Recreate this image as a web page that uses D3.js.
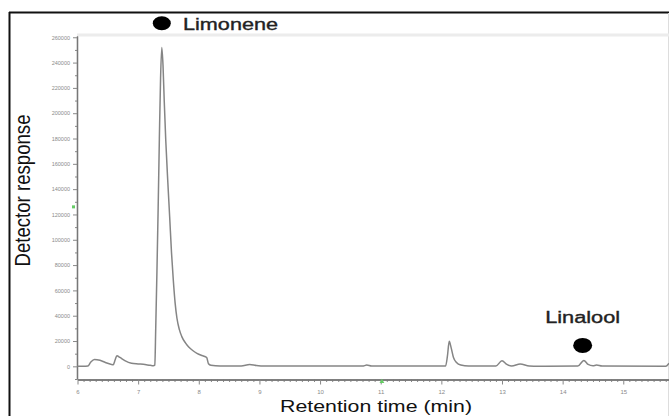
<!DOCTYPE html>
<html>
<head>
<meta charset="utf-8">
<script src="https://cdn.jsdelivr.net/npm/d3@7"></script>
<style>
  html, body { margin: 0; padding: 0; background: #fff; }
  svg { display: block; }
  text { font-family: "Liberation Sans", Arial, sans-serif; }
</style>
</head>
<body>
<div id="chart"></div>
<script>
// ---- data ----
const retentionTimes = [
  6.00, 6.10, 6.17, 6.22, 6.28, 6.37, 6.46, 6.56, 6.59, 6.62, 6.65, 6.70, 6.78, 6.89, 7.00, 7.085, 7.20, 7.25,
  7.275, 7.29, 7.31, 7.33, 7.35, 7.37, 7.39, 7.41, 7.43, 7.455, 7.49, 7.52, 7.55, 7.58, 7.61, 7.64, 7.68, 7.72,
  7.78, 7.83, 7.90, 7.97, 8.04, 8.10, 8.13, 8.16, 8.20, 8.35,
  8.70, 8.84, 8.95, 9.10, 10.70, 10.77, 10.85,
  12.07, 12.10, 12.13, 12.16, 12.20, 12.25, 12.32, 12.45,
  12.90, 13.00, 13.08, 13.16, 13.30, 13.45, 13.60,
  14.25, 14.35, 14.42, 14.50, 14.56, 14.65, 15.70, 15.754
];
const detectorResponse = [
  0, 0, 200, 3500, 5500, 4800, 3000, 1500, 1300, 5000, 8400, 7000, 4500, 2400, 1900, 1600, 800, 500,
  1000, 30000, 75000, 125000, 180000, 228000, 252000, 238000, 210000, 179000, 145000, 118000, 90000, 68000, 50000, 38000, 29000, 23500,
  18500, 15500, 12500, 10300, 8800, 7800, 7000, 2000, 800, 200,
  300, 1500, 600, 200, 200, 1000, 200,
  300, 8000, 19800, 15000, 7000, 3000, 1000, 200,
  300, 4400, 1500, 200, 1800, 300, 100,
  200, 4700, 1500, 400, 1000, 200, 100, 2500
];
const xTickValues = [6, 7, 8, 9, 10, 11, 12, 13, 14, 15];
const yTickValues = [0, 20000, 40000, 60000, 80000, 100000, 120000, 140000, 160000, 180000, 200000, 220000, 240000, 260000];
const peakNames = ["Limonene", "Linalool"];
const peakTimes = [7.39, 14.33];
const peakHeights = [252000, 4700];
const eventTimes = [11.02];      // green event marker on time axis
const eventLevels = [126000];    // green event marker on response axis

// ---- layout ----
const W = 669, H = 416;
const svg = d3.select("#chart").append("svg").attr("width", W).attr("height", H);
svg.append("rect").attr("width", W).attr("height", H).attr("fill", "#fff");

const x = d3.scaleLinear().domain([6, 15.754]).range([77.5, 669]);
const y = d3.scaleLinear().domain([-10000, 261000]).range([379, 36]);
const axisX = 77, axisY = 379.5;

// frame
svg.append("line").attr("x1", 9).attr("x2", W).attr("y1", 12.5).attr("y2", 12.5)
  .attr("stroke", "#111").attr("stroke-width", 2);
svg.append("line").attr("x1", 9.5).attr("x2", 9.5).attr("y1", 12).attr("y2", H)
  .attr("stroke", "#111").attr("stroke-width", 2);
svg.append("line").attr("x1", 668.5).attr("x2", 668.5).attr("y1", 13).attr("y2", H)
  .attr("stroke", "#ddd").attr("stroke-width", 1);
// faint header separator
svg.append("line").attr("x1", 77).attr("x2", W).attr("y1", 35).attr("y2", 35)
  .attr("stroke", "#ececec").attr("stroke-width", 3);

// y axis
const yMinor = d3.range(-10000, 261000, 10000).filter(v => v % 20000 !== 0);
svg.append("g").attr("transform", `translate(${axisX},0)`)
  .call(d3.axisLeft(y).tickValues(yMinor).tickSize(2).tickSizeOuter(0).tickFormat(""));
const gy = svg.append("g").attr("transform", `translate(${axisX},0)`)
  .call(d3.axisLeft(y).tickValues(yTickValues).tickSize(4).tickSizeOuter(0).tickPadding(3).tickFormat(d3.format("d")));
gy.selectAll("text").attr("font-size", 5.5).attr("fill", "#8a8a8a").attr("font-family", "Liberation Sans, Arial, sans-serif");

// x axis
const xMinor = d3.range(60, 158, 1).map(v => v / 10).filter(v => Math.abs(v - Math.round(v)) > 1e-6);
svg.append("g").attr("transform", `translate(0,${axisY})`)
  .call(d3.axisBottom(x).tickValues(xMinor).tickSize(2.5).tickSizeOuter(0).tickFormat(""));
const gx = svg.append("g").attr("transform", `translate(0,${axisY})`)
  .call(d3.axisBottom(x).tickValues(xTickValues).tickSize(5).tickSizeOuter(0).tickPadding(5).tickFormat(d3.format("d")));
gx.selectAll("text").attr("font-size", 6).attr("fill", "#8a8a8a").attr("font-family", "Liberation Sans, Arial, sans-serif");

svg.selectAll(".domain").attr("stroke", "#777").attr("stroke-width", 1.3);
svg.selectAll(".tick line").attr("stroke", "#888");

// green event markers
svg.selectAll(".evx").data(eventTimes).enter().append("path")
  .attr("d", d3.symbol(d3.symbolTriangle, 10))
  .attr("transform", d => `translate(${x(d)},${axisY + 2})`)
  .attr("fill", "#6c6");
svg.selectAll(".evy").data(eventLevels).enter().append("rect")
  .attr("x", axisX - 5).attr("y", d => y(d) - 1.5).attr("width", 3).attr("height", 3)
  .attr("fill", "#6c6");

// chromatogram trace
const pts = retentionTimes.map((t, i) => [t, detectorResponse[i]]);
const line = d3.line().x(d => x(d[0])).y(d => y(d[1])).curve(d3.curveMonotoneX);
svg.append("path").datum(pts).attr("d", line)
  .attr("fill", "none").attr("stroke", "#858585").attr("stroke-width", 1.5);

// peak annotations
svg.append("ellipse").attr("cx", x(peakTimes[0])).attr("cy", 23.3).attr("rx", 9).attr("ry", 7).attr("fill", "#000");
svg.append("text").attr("x", 183).attr("y", 30).attr("font-size", 16).attr("fill", "#222")
  .attr("stroke", "#222").attr("stroke-width", 0.35)
  .attr("textLength", 95).attr("lengthAdjust", "spacingAndGlyphs").text(peakNames[0]);
const lx = x(peakTimes[1]);
const ly = y(peakHeights[1]) - 15;
svg.append("ellipse").attr("cx", lx).attr("cy", ly).attr("rx", 9.5).attr("ry", 7.5).attr("fill", "#000");
svg.append("text").attr("x", lx - 37.5).attr("y", ly - 22).attr("font-size", 16).attr("fill", "#222")
  .attr("stroke", "#222").attr("stroke-width", 0.35)
  .attr("textLength", 75).attr("lengthAdjust", "spacingAndGlyphs").text(peakNames[1]);

// axis titles
svg.append("text").attr("transform", "translate(29.5,190.5) scale(1.25,1) rotate(-90)")
  .attr("text-anchor", "middle").attr("font-size", 17).attr("fill", "#111")
  .attr("textLength", 152).attr("lengthAdjust", "spacingAndGlyphs").text("Detector response");
svg.append("text").attr("x", 280).attr("y", 411.5).attr("font-size", 17).attr("fill", "#111")
  .attr("textLength", 192).attr("lengthAdjust", "spacingAndGlyphs").text("Retention time (min)");
</script>
</body>
</html>
